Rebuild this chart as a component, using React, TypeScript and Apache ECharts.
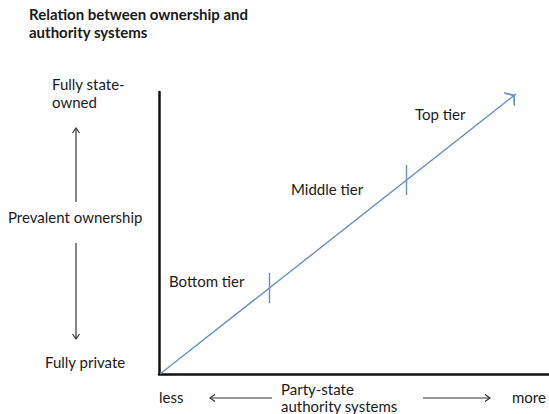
import React, { useEffect, useRef } from "react";
import * as echarts from "echarts";

// Conceptual diagram: authority (x) vs ownership (y), in axis units
const xRange = [0, 390];
const yRange = [0, 282];
const trendLine = [[1, 0], [357, 280]];
const tierDividers = [
  [[110, 71], [110, 101]],
  [[247, 179], [247, 209]],
];
const tierLabels = ["Bottom tier", "Middle tier", "Top tier"];
const titleLines = ["Relation between ownership and", "authority systems"];
const yAxisTexts = ["Fully state-", "owned", "Prevalent ownership", "Fully private"];
const xAxisTexts = ["less", "Party-state", "authority systems", "more"];

const BLUE = "#6890c4";
const FONT = "Lato";
const ARROW =
  "path://M5,0 L5.05,0 L5,0.05 Z M5,10 L10,16.6 L9,17.4 L5,12.1 L1,17.4 L0,16.6 Z";

export default function App() {
  const ref = useRef<HTMLDivElement>(null);
  useEffect(() => {
    document.body.style.margin = "0";
    const chart = echarts.init(ref.current!, null, { renderer: "svg" });
    const txt = (text: string, x: number, y: number, extra: any = {}) => ({
      type: "text",
      x,
      y,
      style: {
        text,
        fill: "#1a1a1a",
        font: `15px ${FONT}`,
        textVerticalAlign: "middle",
        ...extra,
      },
    });
    const black = { stroke: "#333", lineWidth: 1.2, fill: "none" };
    chart.setOption({
      animation: false,
      backgroundColor: "#fff",
      grid: { left: 159, top: 92, right: 0, bottom: 40 },
      xAxis: {
        type: "value",
        min: xRange[0],
        max: xRange[1],
        axisLine: { show: true, lineStyle: { color: "#111", width: 2.5 } },
        axisTick: { show: false },
        axisLabel: { show: false },
        splitLine: { show: false },
      },
      yAxis: {
        type: "value",
        min: yRange[0],
        max: yRange[1],
        axisLine: { show: true, lineStyle: { color: "#111", width: 2.5 } },
        axisTick: { show: false },
        axisLabel: { show: false },
        splitLine: { show: false },
      },
      series: [
        {
          type: "lines",
          coordinateSystem: "cartesian2d",
          symbol: ["none", ARROW],
          symbolSize: [9, 18],
          lineStyle: { color: BLUE, width: 1.4, opacity: 1 },
          data: [{ coords: trendLine }],
          z: 3,
        },
        {
          type: "lines",
          coordinateSystem: "cartesian2d",
          symbol: ["none", "none"],
          lineStyle: { color: BLUE, width: 1.4, opacity: 1 },
          data: tierDividers.map((c) => ({ coords: c })),
          z: 3,
        },
      ],
      graphic: [
        txt(titleLines[0], 29, 14, { font: `bold 15px ${FONT}` }),
        txt(titleLines[1], 29, 32, { font: `bold 15px ${FONT}` }),
        txt(yAxisTexts[0], 52, 84),
        txt(yAxisTexts[1], 52, 102),
        txt(yAxisTexts[2], 8, 217),
        txt(yAxisTexts[3], 45, 362),
        txt(tierLabels[0], 169, 281),
        txt(tierLabels[1], 291, 189),
        txt(tierLabels[2], 415, 114),
        txt(xAxisTexts[0], 159, 397),
        txt(xAxisTexts[1], 281, 389),
        txt(xAxisTexts[2], 281, 406),
        txt(xAxisTexts[3], 512, 397),
        // vertical arrows
        { type: "line", shape: { x1: 76, y1: 128, x2: 76, y2: 202 }, style: black },
        { type: "polyline", shape: { points: [[72.5, 133], [76, 128], [79.5, 133]] }, style: black },
        { type: "line", shape: { x1: 76, y1: 243, x2: 76, y2: 339 }, style: black },
        { type: "polyline", shape: { points: [[72.5, 334], [76, 339], [79.5, 334]] }, style: black },
        // horizontal arrows
        { type: "line", shape: { x1: 210, y1: 398, x2: 272, y2: 398 }, style: black },
        { type: "polyline", shape: { points: [[215, 394.5], [210, 398], [215, 401.5]] }, style: black },
        { type: "line", shape: { x1: 423, y1: 398, x2: 490, y2: 398 }, style: black },
        { type: "polyline", shape: { points: [[485, 394.5], [490, 398], [485, 401.5]] }, style: black },
      ],
    });
    return () => chart.dispose();
  }, []);
  return <div ref={ref} style={{ width: 549, height: 414 }} />;
}
